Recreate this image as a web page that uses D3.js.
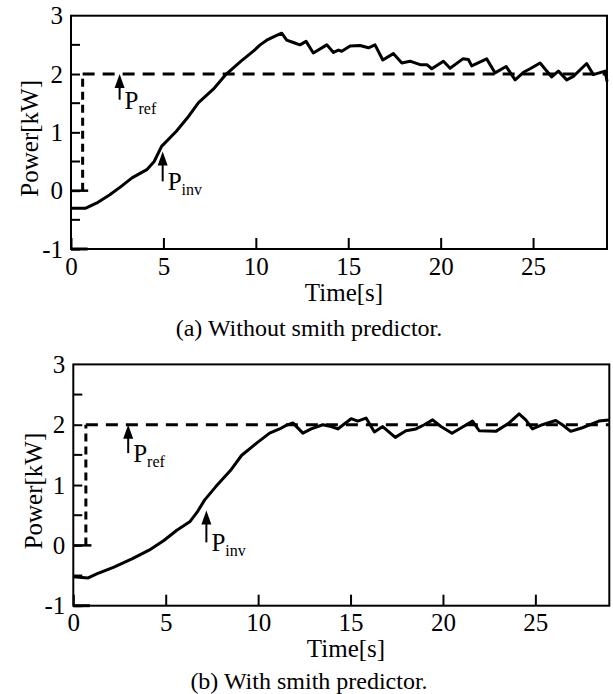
<!DOCTYPE html>
<html>
<head>
<meta charset="utf-8">
<script src="https://cdn.jsdelivr.net/npm/d3@7"></script>
<style>
  body { margin: 0; background: #fff; }
  text { font-family: "Liberation Serif", "Times New Roman", serif; fill: #000; }
</style>
</head>
<body>
<svg id="chart" width="613" height="694"></svg>
<script>
// x ticks / y ticks shared by both panels
const xTicks = [0, 5, 10, 15, 20, 25];
const yTicks = [-1, 0, 1, 2, 3];
const yMinorTicks = [-0.5, 0.5, 1.5, 2.5];

// (a) Without smith predictor: measured inverter power
const timeA = [0, 0.8, 1.4, 2.1, 2.7, 3.3, 4.1, 4.5, 4.9, 5.7, 6.3, 6.9, 7.7, 8.4, 9.2, 9.9,
  10.23, 10.59, 11.04, 11.4, 11.67, 12.03, 12.39, 12.72, 13.11, 13.84, 14.2, 14.47, 14.65, 15.1,
  15.64, 16.09, 16.45, 16.87, 17.44, 17.9, 18.34, 18.89, 19.25, 19.52, 20.15, 20.51, 21.2, 21.5,
  21.68, 22.49, 22.94, 23.54, 24.03, 24.48, 24.84, 25.38, 26.01, 26.37, 26.82, 27.18, 27.9, 28.26,
  28.9, 29.0];
const powerA = [-0.30, -0.30, -0.21, -0.07, 0.07, 0.22, 0.36, 0.50, 0.76, 1.02, 1.25, 1.51, 1.74, 2.00, 2.22, 2.40,
  2.50, 2.58, 2.65, 2.70, 2.58, 2.54, 2.50, 2.56, 2.36, 2.50, 2.37, 2.41, 2.39, 2.48,
  2.49, 2.45, 2.50, 2.24, 2.35, 2.19, 2.22, 2.16, 2.16, 2.09, 2.22, 2.10, 2.26, 2.25,
  2.14, 2.26, 2.02, 2.13, 1.90, 2.03, 2.09, 2.19, 1.95, 2.05, 1.90, 1.96, 2.18, 1.99,
  2.05, 1.87];

// (b) With smith predictor
const timeB = [0, 0.8, 1.3, 2.2, 3.2, 4.1, 4.9, 5.6, 6.3, 6.7, 7.1, 7.7, 8.5, 9.1, 9.9,
  10.62, 11.16, 11.52, 11.88, 12.42, 12.87, 13.5, 13.95, 14.31, 15.03, 15.39, 15.84, 16.29, 16.74,
  17.42, 18.0, 18.54, 18.99, 19.44, 19.89, 20.49, 20.88, 21.6, 21.96, 22.86, 23.58, 24.12, 24.48,
  24.84, 25.38, 26.1, 26.46, 26.91, 27.54, 28.44, 28.98];
const powerB = [-0.52, -0.54, -0.47, -0.36, -0.22, -0.08, 0.08, 0.25, 0.39, 0.55, 0.75, 0.97, 1.24, 1.49, 1.69,
  1.86, 1.93, 1.99, 2.03, 1.86, 1.93, 2.00, 1.97, 1.93, 2.10, 2.06, 2.11, 1.88, 1.97,
  1.79, 1.90, 1.93, 2.00, 2.08, 1.97, 1.86, 1.93, 2.06, 1.90, 1.89, 2.03, 2.18, 2.08,
  1.93, 2.00, 2.07, 2.00, 1.89, 1.95, 2.06, 2.08];

// reference step (kW) and the time it switches
const refLevel = [0, 2];
const stepTimeA = 0.63, stepTimeB = 0.68;

// annotation arrows: [time, tail value, tip value]
const prefArrowA = [2.63, 1.56, 2.0], pinvArrowA = [4.96, 0.16, 0.67];
const prefArrowB = [2.97, 1.53, 2.0], pinvArrowB = [7.2, 0.05, 0.58];

const svg = d3.select("#chart");
const serif = '"Liberation Serif", "Times New Roman", serif';

function drawPanel(cfg) {
  const x = d3.scaleLinear().domain([0, 29]).range([cfg.left, cfg.right]);
  const y = d3.scaleLinear().domain([-1, 3]).range([cfg.bottom, cfg.top]);
  const g = svg.append("g");

  // frame
  g.append("rect")
    .attr("x", cfg.left).attr("y", cfg.top)
    .attr("width", cfg.right - cfg.left).attr("height", cfg.bottom - cfg.top)
    .attr("fill", "none").attr("stroke", "#000").attr("stroke-width", 2);

  // x axis (ticks pointing in)
  const xAxis = g.append("g")
    .attr("transform", "translate(0," + cfg.bottom + ")")
    .call(d3.axisBottom(x).tickValues(xTicks).tickFormat(d => String(d))
      .tickSizeInner(-11).tickSizeOuter(0).tickPadding(8));
  xAxis.select(".domain").remove();
  xAxis.selectAll(".tick line").attr("stroke-width", 2);
  xAxis.selectAll(".tick text").style("font-size", "25px").style("font-family", serif);

  // y axis
  const yAxis = g.append("g")
    .attr("transform", "translate(" + cfg.left + ",0)")
    .call(d3.axisLeft(y).tickValues(yTicks).tickFormat(d => String(d))
      .tickSizeInner(-9).tickSizeOuter(0).tickPadding(8));
  yAxis.select(".domain").remove();
  yAxis.selectAll(".tick line").attr("stroke-width", 2);
  yAxis.selectAll(".tick text").style("font-size", "25px").style("font-family", serif)
    .attr("dy", "0.33em");
  yAxis.selectAll(".tick").filter(d => d === 3).select("line").remove();
  g.selectAll(".minor").data(yMinorTicks).enter().append("line")
    .attr("x1", cfg.left).attr("x2", cfg.left + 9)
    .attr("y1", d => y(d)).attr("y2", d => y(d))
    .attr("stroke", "#000").attr("stroke-width", 2);

  // short pre-step segment on the bottom edge
  g.append("line")
    .attr("x1", x(0)).attr("x2", x(0.9)).attr("y1", y(-1)).attr("y2", y(-1))
    .attr("stroke", "#000").attr("stroke-width", 3);

  // reference: dashed step
  g.append("path")
    .attr("d", d3.line()([[x(0), y(refLevel[0])], [x(cfg.step + 0.3), y(refLevel[0])]]))
    .attr("stroke", "#000").attr("stroke-width", 2.5).attr("fill", "none");
  g.append("path")
    .attr("d", d3.line()([[x(cfg.step), y(refLevel[0])], [x(cfg.step), y(refLevel[1])]]))
    .attr("stroke", "#000").attr("stroke-width", 3).attr("fill", "none")
    .attr("stroke-dasharray", "8,5");
  g.append("path")
    .attr("d", d3.line()([[x(cfg.step), y(refLevel[1])], [x(29), y(refLevel[1])]]))
    .attr("stroke", "#000").attr("stroke-width", 3).attr("fill", "none")
    .attr("stroke-dasharray", "12,8");

  // measured power
  const pts = cfg.time.map((t, i) => [t, cfg.power[i]]);
  g.append("path")
    .datum(pts)
    .attr("d", d3.line().x(d => x(d[0])).y(d => y(d[1])))
    .attr("fill", "none").attr("stroke", "#000").attr("stroke-width", 3)
    .attr("stroke-linejoin", "round");

  // arrows + labels
  function arrow(a, sub) {
    const ax = x(a[0]), tail = y(a[1]), tip = y(a[2]);
    g.append("line").attr("x1", ax).attr("x2", ax).attr("y1", tail).attr("y2", tip + 8)
      .attr("stroke", "#000").attr("stroke-width", 2);
    g.append("path")
      .attr("d", d3.line()([[ax, tip], [ax - 5, tip + 14], [ax + 5, tip + 14]]) + "Z")
      .attr("fill", "#000");
    const t = g.append("text").attr("x", ax + 5).attr("y", tail + 9).style("font-size", "25px");
    t.append("tspan").text("P");
    t.append("tspan").style("font-size", "16px").attr("dy", 5).text(sub);
  }
  arrow(cfg.prefArrow, "ref");
  arrow(cfg.pinvArrow, "inv");

  // axis titles
  g.append("text")
    .attr("transform", "translate(" + cfg.yLabelX + "," + ((cfg.top + cfg.bottom) / 2 + 6) + ") rotate(-90)")
    .attr("text-anchor", "middle").style("font-size", "25px").text("Power[kW]");
  g.append("text")
    .attr("x", cfg.xLabelX).attr("y", cfg.xLabelY)
    .attr("text-anchor", "middle").style("font-size", "25px").text("Time[s]");
  g.append("text")
    .attr("x", 309).attr("y", cfg.captionY)
    .attr("text-anchor", "middle").style("font-size", "24px").text(cfg.caption);
}

drawPanel({
  left: 71, right: 607, top: 15.7, bottom: 249,
  time: timeA, power: powerA, step: stepTimeA,
  prefArrow: prefArrowA, pinvArrow: pinvArrowA,
  yLabelX: 38, xLabelX: 344, xLabelY: 301, captionY: 336,
  caption: "(a) Without smith predictor."
});
drawPanel({
  left: 73.3, right: 609.3, top: 364.4, bottom: 605.7,
  time: timeB, power: powerB, step: stepTimeB,
  prefArrow: prefArrowB, pinvArrow: pinvArrowB,
  yLabelX: 42, xLabelX: 346, xLabelY: 657, captionY: 689,
  caption: "(b) With smith predictor."
});
</script>
</body>
</html>
